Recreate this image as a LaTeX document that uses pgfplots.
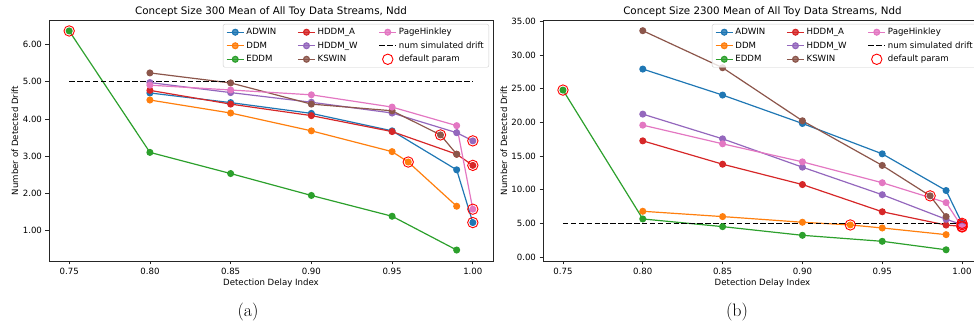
\documentclass[border=0pt]{standalone}
\usepackage{fontspec}
\usepackage{pgfplots}
\pgfplotsset{compat=1.18}
\newfontfamily\dv{DejaVu Sans}
\definecolor{c0}{HTML}{1F77B4}
\definecolor{c1}{HTML}{FF7F0E}
\definecolor{c2}{HTML}{2CA02C}
\definecolor{c3}{HTML}{D62728}
\definecolor{c4}{HTML}{9467BD}
\definecolor{c5}{HTML}{8C564B}
\definecolor{c6}{HTML}{E377C2}
\pgfplotsset{
 every axis title shift=0pt,
 panel/.style={
   scale only axis, height=241pt,
   xmin=0.7375, xmax=1.0125,
   xtick={0.75,0.8,0.85,0.9,0.95,1.0},
   axis line style={black!85,line width=0.9pt},
   tick align=outside, xtick pos=bottom, ytick pos=left,
   major tick length=3.5pt,
   every tick/.style={black!85,line width=0.8pt},
   /pgf/number format/assume math mode=true,
   /pgf/number format/fixed, /pgf/number format/fixed zerofill, /pgf/number format/precision=2,
   ticklabel style={font=\dv\fontsize{8.6}{10}\selectfont},
   label style={font=\dv\fontsize{8.6}{10}\selectfont},
   title style={font=\dv\fontsize{10.3}{12}\selectfont, anchor=center},
   xlabel={Detection Delay Index},
   ylabel={Number of Detected Drift},
   xlabel style={at={(axis description cs:0.5,-0.0913)}, anchor=center},
   legend columns=3, transpose legend,
   legend cell align=left,
   legend style={at={(1,1)}, anchor=north east, xshift=-4pt, yshift=-4pt,
     font=\dv\fontsize{8.6}{10}\selectfont, draw=black!20, rounded corners=2pt,
     fill=white, fill opacity=0.8, text opacity=1, draw opacity=1, inner xsep=3pt, inner ysep=2pt,
     nodes={inner sep=2pt}, row sep=1.5pt,
     /tikz/every even column/.append style={column sep=19pt}},
 },
 ser/.style={color=#1, mark=*, line width=1.2pt, mark size=2.9pt, mark options={solid}},
 dflt/.style={only marks, mark=o, red, mark size=5.2pt, line width=0.9pt},
 sim/.style={black, dash pattern=on 5.5pt off 2.4pt, line width=1.3pt},
}
\begin{document}
\begin{tikzpicture}
\begin{axis}[panel, at={(49pt,65pt)}, anchor=south west, width=444pt,
  ymin=0.175, ymax=6.665, ytick={1,2,3,4,5,6},
  title={Concept Size 300 Mean of All Toy Data Streams, Ndd},
  title style={at={(axis description cs:0.5,1.033)}},
  ylabel style={at={(axis description cs:-0.0766,0.5)}, anchor=center}]
\addplot[ser=c0] coordinates {(0.80,4.70)(0.85,4.44)(0.90,4.15)(0.95,3.68)(0.99,2.63)(1.00,1.21)};
\addlegendentry{ADWIN}
\addplot[ser=c1] coordinates {(0.80,4.51)(0.85,4.16)(0.90,3.68)(0.95,3.12)(0.96,2.84)(0.99,1.65)};
\addlegendentry{DDM}
\addplot[ser=c2] coordinates {(0.75,6.37)(0.80,3.10)(0.85,2.53)(0.90,1.94)(0.95,1.38)(0.99,0.47)};
\addlegendentry{EDDM}
\addplot[ser=c3] coordinates {(0.80,4.77)(0.85,4.40)(0.90,4.09)(0.95,3.66)(0.99,3.05)(1.00,2.75)};
\addlegendentry{HDDM\_A}
\addplot[ser=c4] coordinates {(0.80,4.98)(0.85,4.71)(0.90,4.45)(0.95,4.16)(0.99,3.63)(1.00,3.41)};
\addlegendentry{HDDM\_W}
\addplot[ser=c5] coordinates {(0.80,5.24)(0.85,4.97)(0.90,4.40)(0.95,4.22)(0.98,3.57)(0.99,3.05)};
\addlegendentry{KSWIN}
\addplot[ser=c6] coordinates {(0.80,4.91)(0.85,4.78)(0.90,4.65)(0.95,4.32)(0.99,3.82)(1.00,1.57)};
\addlegendentry{PageHinkley}
\addplot[sim] coordinates {(0.75,5)(1.00,5)};
\addlegendentry{num simulated drift}
\addplot[dflt] coordinates {(0.75,6.37)(0.96,2.84)(0.98,3.57)(1.00,3.41)(1.00,2.75)(1.00,1.57)(1.00,1.21)};
\addlegendentry{default param}
\end{axis}
\begin{axis}[panel, at={(543pt,65pt)}, anchor=south west, width=439pt,
  ymin=-0.595, ymax=35.2, ytick={0,5,10,15,20,25,30,35},
  title={Concept Size 2300 Mean of All Toy Data Streams, Ndd},
  title style={at={(axis description cs:0.5,1.035)}},
  ylabel style={at={(axis description cs:-0.0888,0.5)}, anchor=center}]
\addplot[ser=c0] coordinates {(0.80,27.91)(0.85,24.05)(0.90,19.83)(0.95,15.32)(0.99,9.87)(1.00,5.0)};
\addlegendentry{ADWIN}
\addplot[ser=c1] coordinates {(0.80,6.79)(0.85,6.0)(0.90,5.16)(0.93,4.76)(0.95,4.31)(0.99,3.32)};
\addlegendentry{DDM}
\addplot[ser=c2] coordinates {(0.75,24.79)(0.80,5.65)(0.85,4.51)(0.90,3.22)(0.95,2.33)(0.99,1.07)};
\addlegendentry{EDDM}
\addplot[ser=c3] coordinates {(0.80,17.25)(0.85,13.78)(0.90,10.76)(0.95,6.72)(0.99,4.74)(1.00,4.55)};
\addlegendentry{HDDM\_A}
\addplot[ser=c4] coordinates {(0.80,21.22)(0.85,17.55)(0.90,13.34)(0.95,9.25)(0.99,5.6)(1.00,4.8)};
\addlegendentry{HDDM\_W}
\addplot[ser=c5] coordinates {(0.80,33.61)(0.85,28.11)(0.90,20.23)(0.95,13.6)(0.98,9.08)(0.99,6.0)};
\addlegendentry{KSWIN}
\addplot[ser=c6] coordinates {(0.80,19.58)(0.85,16.81)(0.90,14.13)(0.95,11.03)(0.99,8.08)(1.00,4.45)};
\addlegendentry{PageHinkley}
\addplot[sim] coordinates {(0.75,5)(1.00,5)};
\addlegendentry{num simulated drift}
\addplot[dflt] coordinates {(0.75,24.79)(0.93,4.76)(0.98,9.08)(1.00,5.0)(1.00,4.8)(1.00,4.55)(1.00,4.45)};
\addlegendentry{default param}
\end{axis}
\node[font=\fontsize{18}{21}\selectfont] at (248pt,14pt) {(a)};
\node[font=\fontsize{18}{21}\selectfont] at (737pt,14pt) {(b)};
\pgfresetboundingbox
\path[use as bounding box] (0pt,0pt) rectangle (974pt,326pt);
\end{tikzpicture}
\end{document}
